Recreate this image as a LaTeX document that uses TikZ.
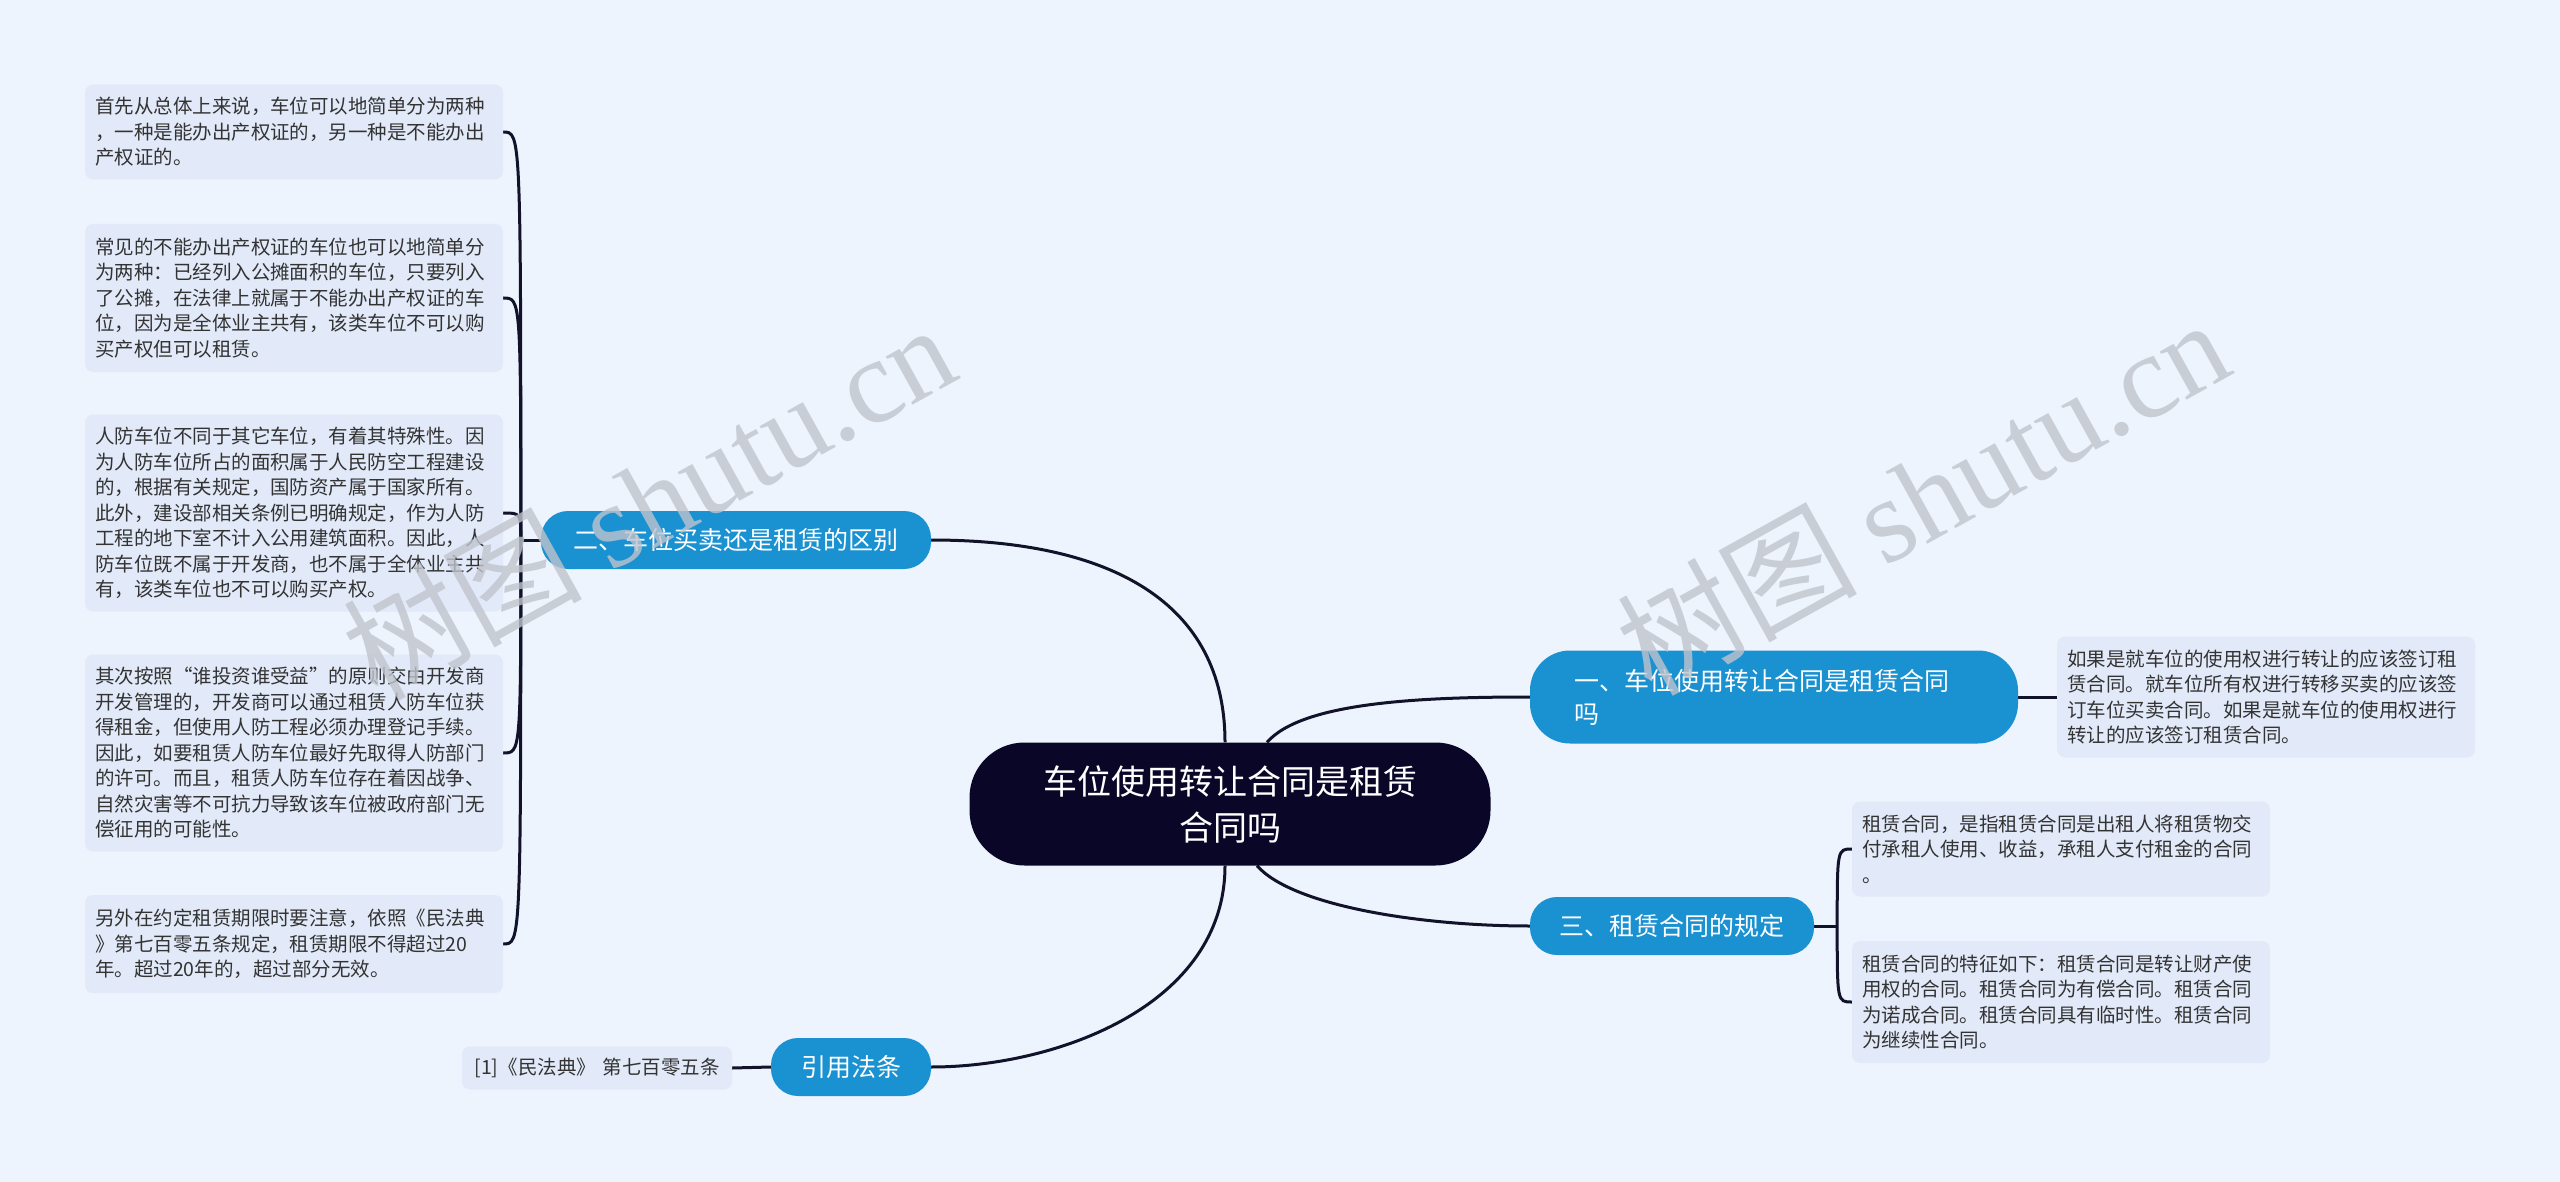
\documentclass[tikz,border=0pt]{standalone}
\usepackage{fontspec}
\setmainfont{Noto Sans CJK SC}
\newfontfamily\wmserif{Liberation Serif}
\usetikzlibrary{backgrounds}
\definecolor{canvasbg}{HTML}{EEF4FD}
\definecolor{leafbg}{HTML}{E2EAF9}
\definecolor{branchblue}{HTML}{1A91D1}
\definecolor{rootnavy}{HTML}{0A0628}
\definecolor{linkdark}{HTML}{12122A}
\definecolor{leaftext}{HTML}{333333}
\definecolor{wmgray}{HTML}{BFC4CD}
\tikzset{
  leaf/.style={fill=leafbg,rounded corners=8,text=leaftext,text width=398pt,align=left,inner xsep=10pt,inner ysep=0pt,font=\fontsize{19.5}{25.5}\selectfont},
  branch/.style={fill=branchblue,text=white,rounded corners=27,inner xsep=0pt,inner ysep=0pt,minimum height=58,font=\fontsize{25}{33}\selectfont},
  link/.style={draw=linkdark,line width=3pt},
  watermark/.style={text=wmgray,opacity=0.8,rotate=29,font=\fontsize{120}{120}\selectfont}
}
\begin{document}
\begin{tikzpicture}[x=1pt,y=-1pt]
\useasboundingbox (0,0) rectangle (2560,1182);

\node[fill=rootnavy,text=white,rounded corners=55,minimum width=521,minimum height=123,align=center,font=\fontsize{34}{46}\selectfont] (root) at (1230,804) {车位使用转让合同是租赁\\合同吗};

\node[branch,minimum width=390] (b2) at (736,540) {二、车位买卖还是租赁的区别};
\node[branch,minimum width=488,minimum height=93,rounded corners=40,text width=400pt,align=left] (b1) at (1774,697) {一、车位使用转让合同是租赁合同\\吗};
\node[branch,minimum width=284] (b3) at (1672,926) {三、租赁合同的规定};
\node[branch,minimum width=160] (b4) at (851,1067) {引用法条};

\node[leaf,minimum height=95] (l1) at (294,132) {首先从总体上来说，车位可以地简单分为两种\\，一种是能办出产权证的，另一种是不能办出\\产权证的。};
\node[leaf,minimum height=148] (l2) at (294,298) {常见的不能办出产权证的车位也可以地简单分\\为两种：已经列入公摊面积的车位，只要列入\\了公摊，在法律上就属于不能办出产权证的车\\位，因为是全体业主共有，该类车位不可以购\\买产权但可以租赁。};
\node[leaf,minimum height=197] (l3) at (294,513) {人防车位不同于其它车位，有着其特殊性。因\\为人防车位所占的面积属于人民防空工程建设\\的，根据有关规定，国防资产属于国家所有。\\此外，建设部相关条例已明确规定，作为人防\\工程的地下室不计入公用建筑面积。因此，人\\防车位既不属于开发商，也不属于全体业主共\\有，该类车位也不可以购买产权。};
\node[leaf,minimum height=197] (l4) at (294,753) {其次按照“谁投资谁受益”的原则交由开发商\\开发管理的，开发商可以通过租赁人防车位获\\得租金，但使用人防工程必须办理登记手续。\\因此，如要租赁人防车位最好先取得人防部门\\的许可。而且，租赁人防车位存在着因战争、\\自然灾害等不可抗力导致该车位被政府部门无\\偿征用的可能性。};
\node[leaf,minimum height=98] (l5) at (294,944) {另外在约定租赁期限时要注意，依照《民法典\\》第七百零五条规定，租赁期限不得超过20\\年。超过20年的，超过部分无效。};

\node[leaf,minimum height=121] (r1) at (2266,697) {如果是就车位的使用权进行转让的应该签订租\\赁合同。就车位所有权进行转移买卖的应该签\\订车位买卖合同。如果是就车位的使用权进行\\转让的应该签订租赁合同。};
\node[leaf,minimum height=95] (r2) at (2061,849) {租赁合同，是指租赁合同是出租人将租赁物交\\付承租人使用、收益，承租人支付租金的合同\\。};
\node[leaf,minimum height=122] (r3) at (2061,1002) {租赁合同的特征如下：租赁合同是转让财产使\\用权的合同。租赁合同为有偿合同。租赁合同\\为诺成合同。租赁合同具有临时性。租赁合同\\为继续性合同。};
\node[leaf,text width=250pt,align=center,minimum height=43] (ref) at (597,1068) {[1]《民法典》 第七百零五条};

\begin{scope}[on background layer]
\fill[canvasbg] (0,0) rectangle (2560,1182);
\draw[link] ([xshift=-5]root.north) .. controls +(0,-140) and +(180,0) .. (b2.east);
\draw[link] ([xshift=37]root.north) .. controls +(35,-40) and +(-110,0) .. (b1.west);
\draw[link] ([xshift=27]root.south) .. controls +(35,40) and +(-110,0) .. (b3.west);
\draw[link] ([xshift=-5]root.south) .. controls +(0,140) and +(125,0) .. (b4.east);
\draw[link] (b2.west) -- ++(-20,0) coordinate (s2);
\foreach \leafname in {l1,l2,l3,l4,l5}
  \draw[link] (s2) .. controls (s2 |- \leafname.east) .. (\leafname.east);
\draw[link] (b3.east) -- ++(23,0) coordinate (s3);
\foreach \leafname in {r2,r3}
  \draw[link] (s3) .. controls (s3 |- \leafname.west) .. (\leafname.west);
\draw[link] (b1.east) -- (r1.west);
\draw[link] (b4.west) -- (ref.east);
\end{scope}

\node[watermark] (wm1) at (648,500) {树图 {\wmserif shutu.cn}};
\node[watermark] (wm2) at (1922,495) {树图 {\wmserif shutu.cn}};
\end{tikzpicture}
\end{document}
